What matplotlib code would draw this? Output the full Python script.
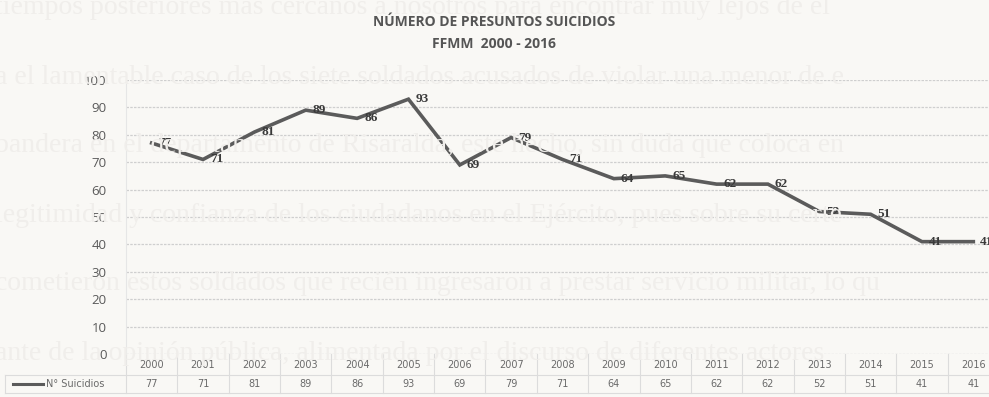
import matplotlib
matplotlib.use("Agg")
import matplotlib.pyplot as plt
from matplotlib.transforms import blended_transform_factory

years = [str(y) for y in range(2000, 2017)]
suicidios = [77, 71, 81, 89, 86, 93, 69, 79, 71, 64, 65, 62, 62, 52, 51, 41, 41]
yticks = [0, 10, 20, 30, 40, 50, 60, 70, 80, 90, 100]
serie = "N° Suicidios"
titulo = "NÚMERO DE PRESUNTOS SUICIDIOS\nFFMM  2000 - 2016"

# faded text of the scanned page behind the chart
fondo = [
    "tiempos posteriores más cercanos a nosotros para encontrar muy lejos de el",
    "a el lamentable caso de los siete soldados acusados de violar una menor de e",
    "bandera en el departamento de Risaralda, este hecho, sin duda que coloca en",
    "legitimidad y confianza de los ciudadanos en el Ejército, pues sobre su certe",
    "cometieron estos soldados que recién ingresaron a prestar servicio militar, lo qu",
    "ante de la opinión pública, alimentada por el discurso de diferentes actores",
]

W, H = 989, 397
fig = plt.figure(figsize=(W / 100, H / 100), dpi=100, facecolor="#f9f8f5")

for i, linea in enumerate(fondo):
    fig.text(-0.005, 1 - (8 + i * 69) / H, linea, fontsize=20, family="Liberation Serif",
             color="#f0eeeb", va="center", ha="left", zorder=0)

left, right = 126, 999
top, bottom = 80, 354
ax = fig.add_axes([left / W, 1 - bottom / H, (right - left) / W, (bottom - top) / H])
ax.set_facecolor("none")

x = list(range(len(years)))
ax.plot(x, suicidios, color="#5b5b5b", lw=2.6, solid_joinstyle="miter", zorder=3)
for xi, v in zip(x, suicidios):
    ax.annotate(str(v), (xi, v), xytext=(5, 0), textcoords="offset points",
                ha="left", va="center", fontsize=9.5, color="#3a3a3a",
                family="Liberation Serif", fontweight="bold", zorder=4)

ax.set_xlim(-0.5, len(years) - 0.5)
ax.set_ylim(0, 100)
ax.set_yticks(yticks)
ax.set_xticks([])
ax.yaxis.grid(True, color="#cfcfcf", lw=0.9, ls=(0, (2, 1)))
ax.set_axisbelow(True)
for s in ["top", "right", "bottom"]:
    ax.spines[s].set_visible(False)
ax.spines["left"].set_color("#e6e6e6")
ax.tick_params(axis="y", length=0, pad=14, labelsize=9.5, labelcolor="#5a5a5a")
for lab in ax.get_yticklabels():
    lab.set_family("Open Sans")

# data table under the axis
tr = blended_transform_factory(ax.transData, ax.transAxes)
h = bottom - top
y_sep = -(375 - bottom) / h
y_bot = -(393 - bottom) / h
y_head = -(365 - bottom) / h
y_row = -(384 - bottom) / h
x_leg = -0.5 - (left - 5) / 51.3
tc = "#dcdcdc"
fuente_tabla = ["Liberation Sans Narrow", "DejaVu Sans"]
ax.plot([x_leg, len(years) - 0.5], [y_sep, y_sep], color=tc, lw=0.8, transform=tr, clip_on=False)
ax.plot([x_leg, len(years) - 0.5], [y_bot, y_bot], color=tc, lw=0.8, transform=tr, clip_on=False)
ax.plot([x_leg, x_leg], [y_sep, y_bot], color=tc, lw=0.8, transform=tr, clip_on=False)
for xi in x:
    ax.plot([xi - 0.5, xi - 0.5], [0, y_bot], color=tc, lw=0.8, transform=tr, clip_on=False)
    ax.text(xi, y_head, years[xi], transform=tr, ha="center", va="center",
            fontsize=7, color="#6a6a6a", family=fuente_tabla)
    ax.text(xi, y_row, str(suicidios[xi]), transform=tr, ha="center", va="center",
            fontsize=7, color="#6a6a6a", family=fuente_tabla)
ax.plot([x_leg + 0.15, x_leg + 0.75], [y_row, y_row], color="#5b5b5b", lw=2.2,
        transform=tr, clip_on=False)
ax.text(x_leg + 0.8, y_row, serie, transform=tr, ha="left", va="center",
        fontsize=7, color="#6a6a6a", family=fuente_tabla)

fig.text(494 / W, 1 - 33 / H, titulo, ha="center", va="center", fontsize=10,
         fontweight="bold", color="#555555", family="Open Sans", linespacing=1.75)

fig.savefig("out.png", dpi=100, facecolor=fig.get_facecolor())
